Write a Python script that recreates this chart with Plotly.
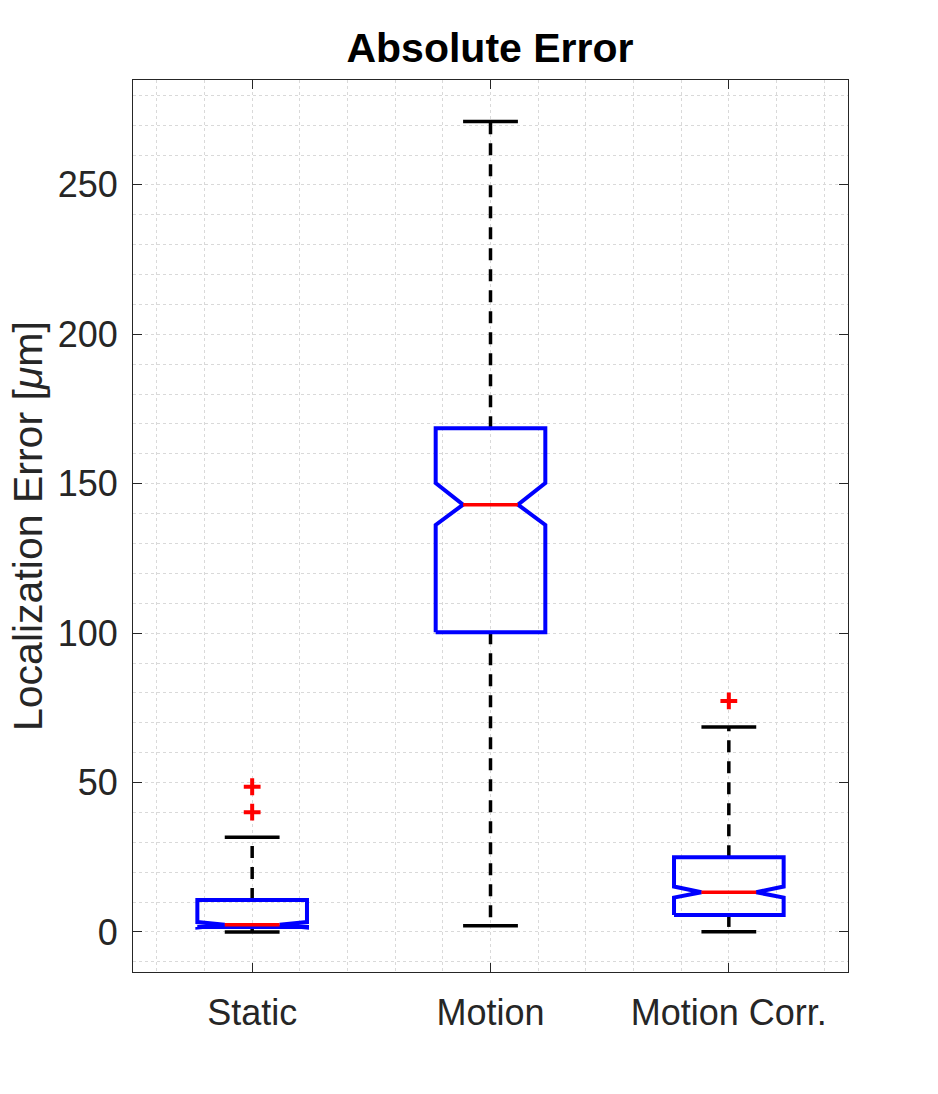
import plotly.graph_objects as go

# ---- data ----
categories = ["Static", "Motion", "Motion Corr."]
positions = [1, 2, 3]
lower_whisker = [0.0, 2.1, 0.1]
q1 = [1.7, 100.3, 5.7]
median = [2.4, 143.0, 13.3]
q3 = [10.7, 168.6, 25.0]
upper_whisker = [31.7, 271.2, 68.6]
notch_low = [1.5, 136.2, 11.5]
notch_high = [3.3, 150.2, 15.2]
outliers = [[48.6, 40.1], [], [77.3]]

y_ticks = [0, 50, 100, 150, 200, 250]

# ---- styling ----
BOX_HALF = 0.23
NOTCH_HALF = 0.115
FONT = "Liberation Sans, Arial, Helvetica, sans-serif"
TXT = "#262626"
GRID = "#d9d9d9"

fig = go.Figure()

for i, p in enumerate(positions):
    # dashed whiskers
    fig.add_trace(go.Scatter(
        x=[p, p, None, p, p],
        y=[q3[i], upper_whisker[i], None, q1[i], lower_whisker[i]],
        mode="lines", line=dict(color="black", width=3.5, dash="12px,9px"),
        hoverinfo="skip"))
    # notched box outline
    bx = [p - BOX_HALF, p - BOX_HALF, p - NOTCH_HALF, p - BOX_HALF, p - BOX_HALF,
          p + BOX_HALF, p + BOX_HALF, p + NOTCH_HALF, p + BOX_HALF, p + BOX_HALF, p - BOX_HALF]
    by = [q1[i], notch_low[i], median[i], notch_high[i], q3[i],
          q3[i], notch_high[i], median[i], notch_low[i], q1[i], q1[i]]
    fig.add_trace(go.Scatter(x=bx, y=by, mode="lines",
                             line=dict(color="#0000ff", width=4), hoverinfo="skip"))
    # median
    fig.add_trace(go.Scatter(x=[p - NOTCH_HALF, p + NOTCH_HALF], y=[median[i], median[i]],
                             mode="lines", line=dict(color="#ff0000", width=3.5), hoverinfo="skip"))
    # whisker caps
    fig.add_trace(go.Scatter(
        x=[p - NOTCH_HALF, p + NOTCH_HALF, None, p - NOTCH_HALF, p + NOTCH_HALF],
        y=[upper_whisker[i], upper_whisker[i], None, lower_whisker[i], lower_whisker[i]],
        mode="lines", line=dict(color="black", width=3.5), hoverinfo="skip"))
    # outliers
    if outliers[i]:
        fig.add_trace(go.Scatter(
            x=[p] * len(outliers[i]), y=outliers[i], mode="markers",
            marker=dict(symbol="cross-thin", size=12, line=dict(width=4, color="#ff0000")),
            hoverinfo="skip"))

axis_common = dict(
    showline=True, linecolor=TXT, linewidth=1, mirror="ticks",
    ticks="inside", ticklen=9, tickcolor=TXT, tickwidth=1,
    showgrid=True, gridcolor=GRID, griddash="dot", gridwidth=1,
    zeroline=False, tickfont=dict(size=36, color=TXT, family=FONT),
)

fig.update_layout(
    width=938, height=1094,
    margin=dict(l=133, r=90, t=80, b=122),
    paper_bgcolor="white", plot_bgcolor="white",
    showlegend=False,
    font=dict(family=FONT, color=TXT),
    title=dict(text="<b>Absolute Error</b>", x=490 / 938, xanchor="center",
               y=1 - 48 / 1094, yanchor="middle",
               font=dict(size=41, color="black", family=FONT)),
    xaxis=dict(range=[0.5, 3.5], tickmode="array", tickvals=positions, ticktext=categories,
               ticklabelstandoff=9,
               minor=dict(tick0=0, dtick=0.2, showgrid=True, gridcolor=GRID,
                          griddash="dot", gridwidth=1, ticks=""),
               **axis_common),
    yaxis=dict(range=[-13.4, 285.1], tickmode="array", tickvals=y_ticks,
               ticktext=[str(v) for v in y_ticks], ticklabelstandoff=7,
               minor=dict(tick0=0, dtick=10, showgrid=True, gridcolor=GRID,
                          griddash="dot", gridwidth=1, ticks=""),
               **axis_common),
    annotations=[dict(text="Localization Error [<i>μ</i>m]", xref="paper", yref="paper",
                      x=(28 - 133) / 715, y=0.5, xanchor="center", yanchor="middle",
                      textangle=-90, showarrow=False,
                      font=dict(size=41, color=TXT, family=FONT))],
)

fig.write_html("out.html")
